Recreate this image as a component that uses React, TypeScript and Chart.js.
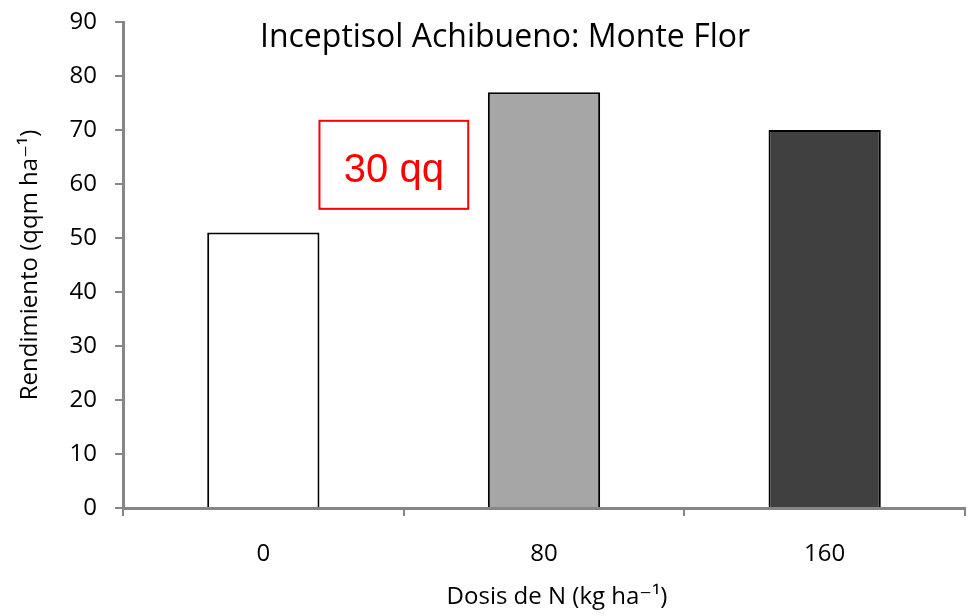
import React, { useEffect, useRef } from "react";
import { Chart, registerables } from "chart.js";

Chart.register(...registerables);

const categories = ["0", "80", "160"];
const yieldValues = [51, 77, 70];
const barColors = ["#ffffff", "#a6a6a6", "#404040"];
const yTicks = [0, 10, 20, 30, 40, 50, 60, 70, 80, 90];
const chartTitle = "Inceptisol Achibueno: Monte Flor";
const yTitle = "Rendimiento (qqm ha\u207B\u00B9)";
const xTitle = "Dosis de N (kg ha\u207B\u00B9)";
const noteLabel = "30 qq";
const noteXRange = [0.2, 0.73];
const noteYRange = [55.4, 71.7];

const FONT = "'Open Sans', 'DejaVu Sans', sans-serif";
const AXIS = "#868686";

export default function App() {
  const ref = useRef<HTMLCanvasElement | null>(null);
  useEffect(() => {
    document.body.style.margin = "0";
    const canvas = ref.current!;
    const overlay = {
      id: "overlay",
      afterDatasetsDraw(chart: any) {
        const ctx = chart.ctx;
        const xs = chart.scales.x;
        const ys = chart.scales.y;
        ctx.save();
        ctx.fillStyle = "#000";
        ctx.font = `32px ${FONT}`;
        ctx.textAlign = "center";
        ctx.textBaseline = "middle";
        ctx.fillText(chartTitle, 505, 38);
        ctx.font = `24px ${FONT}`;
        ctx.fillText(xTitle, (chart.chartArea.left + chart.chartArea.right) / 2 + 13, 597);
        const x1 = xs.getPixelForValue(noteXRange[0]);
        const x2 = xs.getPixelForValue(noteXRange[1]);
        const y1 = ys.getPixelForValue(noteYRange[1]);
        const y2 = ys.getPixelForValue(noteYRange[0]);
        ctx.strokeStyle = "#ff0000";
        ctx.lineWidth = 2;
        ctx.strokeRect(x1, y1, x2 - x1, y2 - y1);
        ctx.fillStyle = "#ff0000";
        ctx.font = `40px 'Liberation Sans', Arial, sans-serif`;
        ctx.fillText(noteLabel, (x1 + x2) / 2, (y1 + y2) / 2 + 6);
        ctx.restore();
      },
    };
    const chart = new Chart(canvas, {
      type: "bar",
      data: {
        labels: categories,
        datasets: [
          {
            data: yieldValues,
            backgroundColor: barColors,
            borderColor: "#000000",
            borderWidth: 2,
            categoryPercentage: 0.8,
            barPercentage: 0.5,
          },
        ],
      },
      options: {
        animation: false,
        responsive: false,
        layout: { padding: { top: 22, right: 2, left: 0, bottom: 0 } },
        plugins: { legend: { display: false }, tooltip: { enabled: false }, title: { display: false } },
        scales: {
          x: {
            grid: { drawOnChartArea: false, drawTicks: true, tickLength: 8, color: AXIS, lineWidth: 2 },
            border: { color: AXIS, width: 3 },
            ticks: { color: "#000", font: { family: FONT, size: 24 }, padding: 24 },
            title: { display: false },
            afterFit(scale: any) {
              scale.height = 108;
              scale.paddingLeft = 0;
              scale.paddingRight = 0;
            },
          },
          y: {
            min: 0,
            max: 90,
            afterBuildTicks(scale: any) {
              scale.ticks = yTicks.map((v) => ({ value: v }));
            },
            grid: { drawOnChartArea: false, drawTicks: true, tickLength: 8, color: AXIS, lineWidth: 2 },
            border: { color: AXIS, width: 3 },
            ticks: { color: "#000", font: { family: FONT, size: 24 }, padding: 18 },
            title: { display: true, text: yTitle, color: "#000", font: { family: FONT, size: 24 }, padding: { top: 16, bottom: 0 } },
            afterFit(scale: any) {
              scale.width = 123;
              scale.paddingTop = 0;
              scale.paddingBottom = 0;
            },
          },
        },
      },
      plugins: [overlay],
    });
    return () => chart.destroy();
  }, []);
  return (
    <div style={{ width: 967, height: 616 }}>
      <canvas ref={ref} width={967} height={616} style={{ display: "block" }} />
    </div>
  );
}
